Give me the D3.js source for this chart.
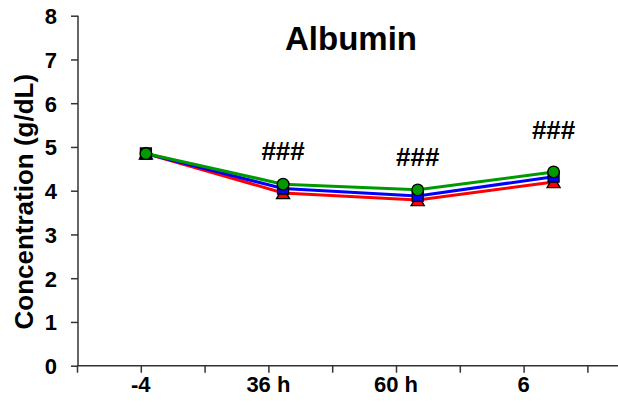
<!DOCTYPE html>
<html>
<head>
<meta charset="utf-8">
<script src="https://cdn.jsdelivr.net/npm/d3@7"></script>
<style>
  body { margin: 0; background: #fff; }
  svg { display: block; font-family: Arial, "Liberation Sans", sans-serif; }
</style>
</head>
<body>
<div class="chart"></div>
<script>
// time points: label positions on the axis, and where the points sit
const labels = ['-4', '36 h', '60 h', '6'];
const labelPos = [1, 3, 5, 7];
const pointPos = [1.08, 3.23, 5.34, 7.47];

const red = [4.85, 3.95, 3.79, 4.20];
const blue = [4.85, 4.05, 3.88, 4.32];
const green = [4.85, 4.15, 4.02, 4.43];

const sigLabels = ['', '###', '###', '###'];
const sigY = [0, 4.7, 4.57, 5.18];

const yTicks = [0, 1, 2, 3, 4, 5, 6, 7, 8];

function draw_chart() {
    let width = 618, height = 408;

    let svg = d3.select('.chart')
        .append('svg')
        .attr('width', width)
        .attr('height', height);

    let x = d3.scaleLinear().domain([0, 8.5]).range([77, 77 + 8.5 * 63.8]);
    let y = d3.scaleLinear().domain([0, 8]).range([365.7, 15.7]);

    const axisColor = '#333';

    // y axis
    let yAxis = svg.append('g')
        .attr('transform', 'translate(78,0)')
        .call(d3.axisLeft(y).tickValues(yTicks).tickSize(7).tickFormat(d3.format('d')));
    yAxis.select('.domain').attr('d', `M0,${y(8)}V${y(0)}`);
    yAxis.selectAll('.domain, .tick line').attr('stroke', axisColor).attr('stroke-width', 1.5);
    yAxis.selectAll('text')
        .attr('font-size', 22)
        .attr('font-weight', 'bold')
        .attr('fill', '#000')
        .attr('x', -21)
        .attr('dy', '0.36em');

    // x axis
    let xAxis = svg.append('g')
        .attr('transform', `translate(0,${y(0)})`)
        .call(d3.axisBottom(x).tickValues(d3.range(0, 9)).tickSize(7).tickFormat(''));
    xAxis.select('.domain').attr('d', `M${x(0)},0H${width}`);
    xAxis.selectAll('.domain, .tick line').attr('stroke', axisColor).attr('stroke-width', 1.5);

    svg.append('g')
        .selectAll('text')
        .data(labels)
        .join('text')
        .attr('x', (d, i) => x(labelPos[i]))
        .attr('y', y(0) + 26)
        .attr('text-anchor', 'middle')
        .attr('font-size', 22)
        .attr('font-weight', 'bold')
        .text(d => d);

    // y title
    svg.append('text')
        .attr('transform', `translate(33,${(y(0) + y(8)) / 2 + 11}) rotate(-90)`)
        .attr('text-anchor', 'middle')
        .attr('font-size', 26)
        .attr('font-weight', 'bold')
        .text('Concentration (g/dL)');

    // title
    svg.append('text')
        .attr('x', 351)
        .attr('y', 50)
        .attr('text-anchor', 'middle')
        .attr('font-size', 33)
        .attr('font-weight', 'bold')
        .text('Albumin');

    const series = [
        { values: red, color: '#ff0000', shape: d3.symbolTriangle, size: 75, dy: 1.9 },
        { values: blue, color: '#0000ff', shape: d3.symbolSquare, size: 121, dy: 0 },
        { values: green, color: '#009a00', shape: d3.symbolCircle, size: 105, dy: 0 }
    ];

    let line = d3.line()
        .x((d, i) => x(pointPos[i]))
        .y(d => y(d));

    series.forEach(s => {
        svg.append('path')
            .datum(s.values)
            .attr('d', line)
            .attr('fill', 'none')
            .attr('stroke', s.color)
            .attr('stroke-width', 3);
    });

    series.forEach(s => {
        svg.append('g')
            .selectAll('path')
            .data(s.values)
            .join('path')
            .attr('transform', (d, i) => `translate(${x(pointPos[i])},${y(d) + s.dy})`)
            .attr('d', d3.symbol().type(s.shape).size(s.size))
            .attr('fill', s.color)
            .attr('stroke', '#000')
            .attr('stroke-width', 1.3);
    });

    // significance marks
    svg.append('g')
        .selectAll('text')
        .data(sigLabels)
        .join('text')
        .attr('x', (d, i) => x(pointPos[i]))
        .attr('y', (d, i) => y(sigY[i]))
        .attr('text-anchor', 'middle')
        .attr('font-size', 26)
        .attr('font-weight', 'bold')
        .text(d => d);
}

draw_chart();
</script>
</body>
</html>
